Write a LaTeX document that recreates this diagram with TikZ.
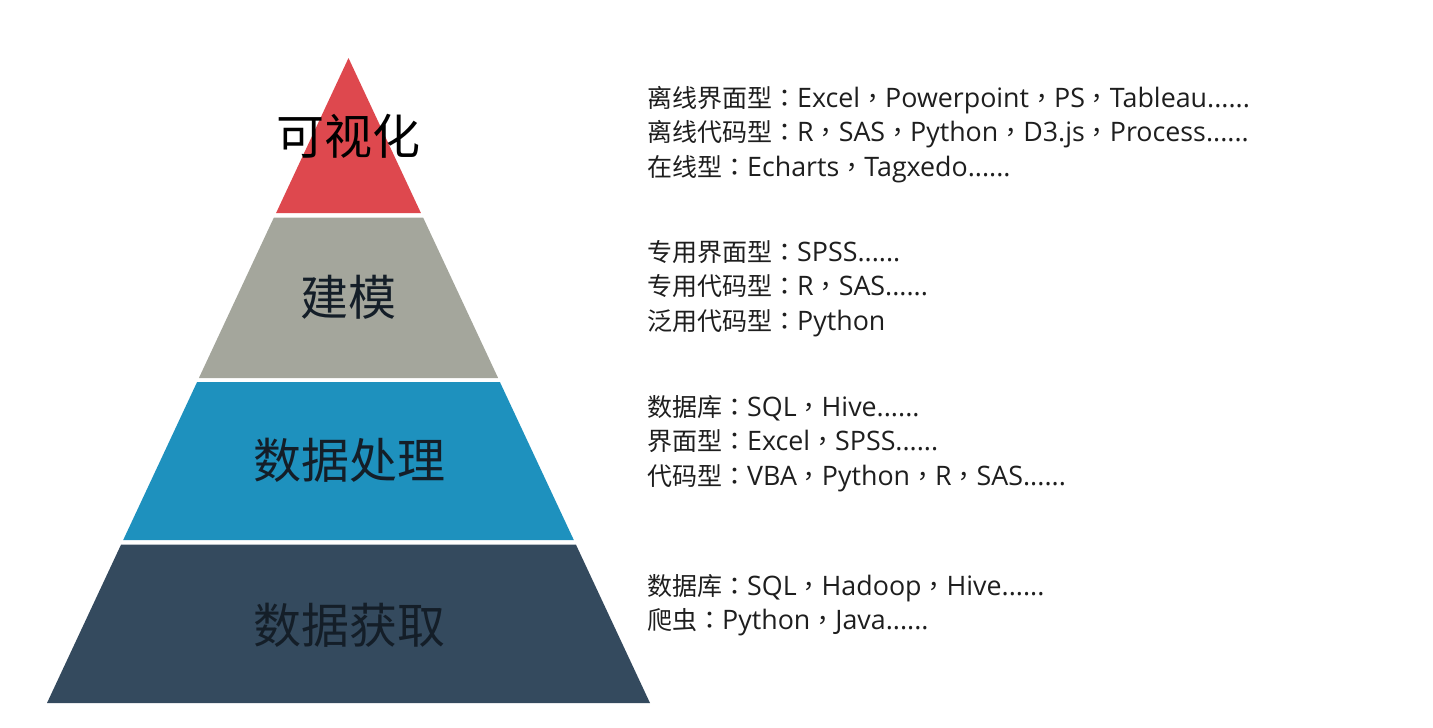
\documentclass[tikz,border=0pt]{standalone}
\usepackage{fontspec}
\newfontfamily\cjk{Noto Sans CJK SC}
\newfontfamily\cjktc[Scale=0.933]{Noto Sans CJK TC}
\newfontfamily\latin{Open Sans}
\newcommand\zh[1]{{\cjktc #1}}
\definecolor{vizred}{RGB}{222,72,78}
\definecolor{modelgray}{RGB}{164,166,156}
\definecolor{procblue}{RGB}{30,145,190}
\definecolor{getdark}{RGB}{52,74,94}
\definecolor{labink}{RGB}{20,30,40}
\definecolor{toolink}{RGB}{30,30,30}

\begin{document}
\begin{tikzpicture}[x=1pt,y=-1pt,
  layer label/.style={font=\cjk\fontsize{48}{48}\selectfont,text=labink,inner sep=0pt},
  tool list/.style={font=\latin\fontsize{26.8}{34.5}\selectfont,text=toolink,
  		align=left,anchor=north west,inner sep=0pt}]

  \useasboundingbox (0,0) rectangle (1433,728);

  % pyramid layers, from the top down
  \fill[vizred] (348.5,58) -- (420.9,213) -- (276.1,213) -- cycle;
  \fill[modelgray] (273.9,217.5) -- (423.1,217.5) -- (498.1,378) -- (198.9,378) -- cycle;
  \fill[procblue] (197.1,382) -- (499.9,382) -- (573.8,540) -- (123.2,540) -- cycle;
  \fill[getdark] (121.1,544.5) -- (575.9,544.5) -- (650,703) -- (47,703) -- cycle;

  \node[layer label,text=black] (viz) at (348.5,136) {可视化};
  \node[layer label] (model) at (348.5,297.5) {建模};
  \node[layer label] (proc) at (349.5,460.5) {数据处理};
  \node[layer label] (get) at (349.5,625) {数据获取};

  \node[tool list] (viztools) at (647,86)
  	{\zh{离线界面型：}Excel\zh{，}Powerpoint\zh{，}PS\zh{，}Tableau......\\
  	 \zh{离线代码型：}R\zh{，}SAS\zh{，}Python\zh{，}D3.js\zh{，}Process......\\
  	 \zh{在线型：}Echarts\zh{，}Tagxedo......};
  \node[tool list] (modeltools) at (647,240)
  	{\zh{专用界面型：}SPSS......\\
  	 \zh{专用代码型：}R\zh{，}SAS......\\
  	 \zh{泛用代码型：}Python};
  \node[tool list] (proctools) at (647,395)
  	{\zh{数据库：}SQL\zh{，}Hive......\\
  	 \zh{界面型：}Excel\zh{，}SPSS......\\
  	 \zh{代码型：}VBA\zh{，}Python\zh{，}R\zh{，}SAS......};
  \node[tool list] (gettools) at (647,574)
  	{\zh{数据库：}SQL\zh{，}Hadoop\zh{，}Hive......\\
  	 \zh{爬虫：}Python\zh{，}Java......};
\end{tikzpicture}
\end{document}
